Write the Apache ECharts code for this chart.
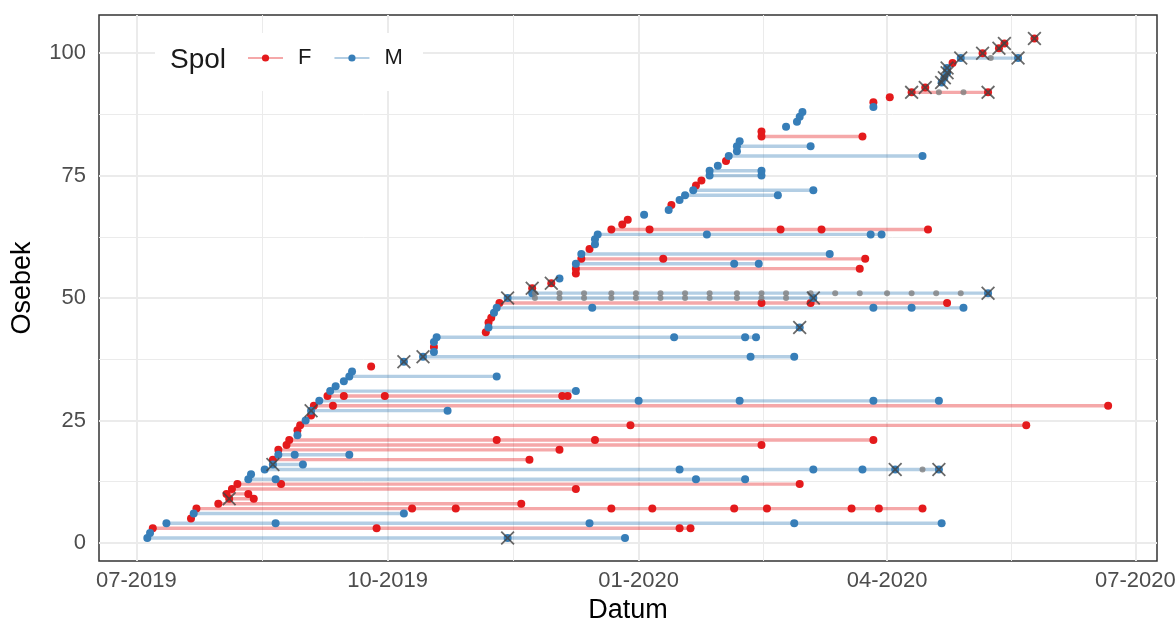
<!DOCTYPE html>
<html>
<head>
<meta charset="utf-8">
<title>Osebki</title>
<script src="https://cdn.jsdelivr.net/npm/echarts@6.0.0/dist/echarts.min.js"></script>
<style>
  html, body { margin: 0; padding: 0; background: #fff; }
  #chart { width: 1176px; height: 629px; }
</style>
</head>
<body>
<div id="chart"></div>
<script>
// --- data: days counted from 2019-07-01 ---
const tickDays = [0, 92, 184, 275, 366];
const tickLabels = ['07-2019', '10-2019', '01-2020', '04-2020', '07-2020'];
const minorDays = [46, 138, 229.5, 320.5];
const yTicks = [0, 25, 50, 75, 100];
const yMinor = [12.5, 37.5, 62.5, 87.5];

// spol of osebek 1..103
const spol = [
  'M','M','F','M','F','M','F','F','F','F',
  'F','F','M','M','M','M','F','M','F','F',
  'F','M','F','F','M','F','M','F','M','F',
  'M','M','M','M','M','F','M','M','M','F',
  'M','M','F','M','F','F','M','M','F','M',
  'M','F','F','M','F','F','M','F','M','F',
  'M','M','M','F','F','F','M','M','F','M',
  'M','M','F','F','M','M','M','F','M','M',
  'M','M','F','F','M','M','M','M','M','F',
  'F','F','F','M','M','M','M','F','M','F',
  'F','F','F'
];

// capture days of each osebek
const ulovi = [
  [4, 136, 179], [5], [6, 88, 199, 203], [11, 51, 166, 241, 295], [20],
  [21, 98], [22, 101, 117, 174, 189, 219, 231, 262, 272, 288], [30, 141], [34, 43], [33, 41],
  [35, 161], [37, 53, 243], [41, 51, 205, 223], [42], [47, 199, 248, 266, 278, 294],
  [50, 61], [50, 144], [52, 58, 78], [52, 155], [55, 229],
  [56, 132, 168, 270], [59], [59], [60, 181, 326], [62],
  [64], [64, 114], [65, 72, 356], [67, 184, 221, 270, 294], [70, 76, 91, 156, 158],
  [71, 161], [73], [76], [78, 132], [79],
  [86], [98], [105, 225, 241], [109], [109],
  [109], [110, 197, 223, 227], [128], [129, 243], [129],
  [130], [131], [132, 167, 270, 284, 303], [133, 229, 247, 297], [136, 248],
  [145, 312], [145], [152], [155], [161],
  [161, 265], [161, 219, 228], [163, 193, 267], [163, 254], [166],
  [168], [168], [169, 209, 269, 273], [174, 188, 236, 251, 290], [178],
  [180], [186], [195], [196], [199],
  [201, 235], [204, 248], [205], [207], [210, 229],
  [210, 229], [213], [216], [217, 288], [220],
  [220, 247], [221], [229, 266], [229], [238],
  [242], [243], [244], [270], [270],
  [276], [284, 312], [289], [295], [296],
  [297], [297], [299], [302, 323], [310],
  [316], [318], [329]
];

// captures marked with a cross: [osebek, day]
const kriz = [
  [1, 136], [9, 34], [15, 278], [15, 294], [16, 50], [27, 64], [37, 98], [38, 105],
  [44, 243], [50, 136], [50, 248], [51, 312], [52, 145], [53, 152], [92, 284], [92, 312],
  [93, 289], [94, 295], [95, 296], [96, 297], [97, 297], [99, 302], [99, 323], [100, 310],
  [101, 316], [102, 318], [103, 329]
];

// captures without spol (grey)
const neznanOsebek = [15, 50, 51, 92, 99];
const neznanDnevi = [
  [288],
  [146, 155, 164, 174, 183, 192, 201, 210, 220, 229, 238],
  [146, 155, 164, 174, 183, 192, 201, 210, 220, 229, 238, 247, 256, 265, 275, 284, 293, 302],
  [294, 303],
  [313]
];
// --- end data ---

const colors = { F: '#e41a1c', M: '#377eb8' };
const font = 'Liberation Sans, Arial, sans-serif';

const lineData = { F: [], M: [] };
ulovi.forEach((days, k) => {
  const arr = lineData[spol[k]];
  days.forEach(d => arr.push([d, k + 1]));
  arr.push(['-', '-']);
});

const greyData = [];
neznanOsebek.forEach((id, k) => neznanDnevi[k].forEach(d => greyData.push([d, id])));

// thin x-shaped cross
const crossPath = 'path://M0,0.9 L0.9,0 L5,4.1 L9.1,0 L10,0.9 L5.9,5 L10,9.1 L9.1,10 L5,5.9 L0.9,10 L0,9.1 L4.1,5 Z';

const gridLines = [
  ...tickDays.map(v => ({ xAxis: v, lineStyle: { width: 2 } })),
  ...minorDays.map(v => ({ xAxis: v, lineStyle: { width: 1 } })),
  ...yTicks.map(v => ({ yAxis: v, lineStyle: { width: 2 } })),
  ...yMinor.map(v => ({ yAxis: v, lineStyle: { width: 1 } }))
];

const chart = echarts.init(document.getElementById('chart'));

const lineSeries = sex => ({
  name: sex,
  type: 'line',
  data: lineData[sex],
  symbol: 'circle',
  symbolSize: 8,
  connectNulls: false,
  z: 2,
  itemStyle: { color: colors[sex], opacity: 1 },
  lineStyle: { color: colors[sex], width: 3.4, opacity: 0.38 },
  emphasis: { disabled: true }
});

chart.setOption({
  animation: false,
  textStyle: { fontFamily: font },
  grid: {
    left: 99, right: 19, top: 15, bottom: 68,
    outerBoundsMode: 'none',
    containLabel: false,
    show: true, borderColor: '#333', borderWidth: 1.5
  },
  xAxis: {
    type: 'value',
    min: -13.7,
    max: 373.9,
    name: 'Datum',
    nameLocation: 'middle',
    nameGap: 36,
    nameTextStyle: { fontSize: 27, color: '#000', fontFamily: font },
    axisLine: { show: false },
    axisTick: { show: true, customValues: tickDays, length: 5, lineStyle: { color: '#333', width: 1.5 } },
    axisLabel: {
      customValues: tickDays,
      formatter: v => tickLabels[tickDays.indexOf(v)],
      fontSize: 22, color: '#4d4d4d', margin: 9, fontFamily: font
    },
    splitLine: { show: false }
  },
  yAxis: {
    type: 'value',
    min: -3.7,
    max: 107.8,
    name: 'Osebek',
    nameLocation: 'middle',
    nameGap: 63,
    nameTextStyle: { fontSize: 27, color: '#000', fontFamily: font },
    axisLine: { show: false },
    axisTick: { show: true, customValues: yTicks, length: 5, lineStyle: { color: '#333', width: 1.5 } },
    axisLabel: {
      customValues: yTicks,
      formatter: v => String(v),
      fontSize: 22, color: '#4d4d4d', margin: 13, fontFamily: font
    },
    splitLine: { show: false }
  },
  legend: {
    data: ['F', 'M'],
    left: 247,
    top: 47,
    z: 7,
    padding: 0,
    itemWidth: 35,
    itemHeight: 9,
    itemGap: 22,
    textStyle: { fontSize: 22, color: '#1a1a1a', padding: [0, 0, 0, 10], fontFamily: font }
  },
  graphic: [
    {
      type: 'rect', z: 6, silent: true,
      shape: { x: 155, y: 33, width: 268, height: 58 },
      style: { fill: '#fff' }
    },
    {
      type: 'text', z: 7, silent: true, x: 170, y: 60,
      style: { text: 'Spol', fontSize: 28, fill: '#1a1a1a', fontFamily: font, verticalAlign: 'middle' }
    }
  ],
  series: [
    {
      name: 'grid',
      type: 'scatter',
      data: [],
      silent: true,
      markLine: {
        silent: true,
        z: 1,
        symbol: 'none',
        label: { show: false },
        lineStyle: { color: '#ebebeb', type: 'solid' },
        emphasis: { disabled: true },
        data: gridLines
      }
    },
    lineSeries('F'),
    lineSeries('M'),
    {
      name: 'NA',
      type: 'scatter',
      data: greyData,
      symbol: 'circle',
      symbolSize: 6,
      z: 3,
      itemStyle: { color: '#7f7f7f' },
      emphasis: { disabled: true }
    },
    {
      name: 'X',
      type: 'scatter',
      data: kriz.map(([id, d]) => [d, id]),
      symbol: crossPath,
      symbolSize: 14,
      z: 4,
      itemStyle: { color: '#444' },
      emphasis: { disabled: true }
    }
  ]
});
</script>
</body>
</html>
